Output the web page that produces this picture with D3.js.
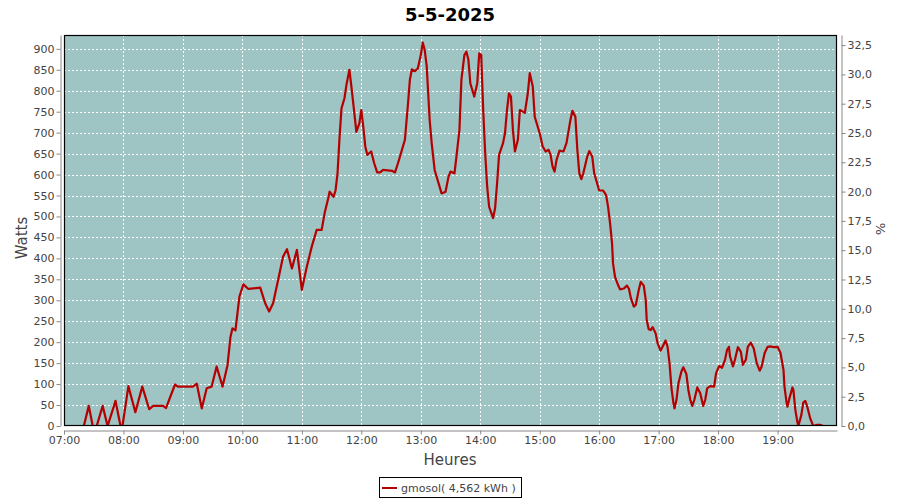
<!DOCTYPE html>
<html>
<head>
<meta charset="utf-8">
<script src="https://cdn.jsdelivr.net/npm/d3@7"></script>
<style>
  html, body { margin: 0; padding: 0; background: #ffffff; }
  svg { display: block; font-family: "DejaVu Sans", sans-serif; }
</style>
</head>
<body>
<svg id="chart" width="900" height="500"></svg>
<script>
const title = "5-5-2025";
const seriesName = "gmosol( 4,562 kWh )";
const hourTicks = ["07:00","08:00","09:00","10:00","11:00","12:00","13:00","14:00","15:00","16:00","17:00","18:00","19:00"];
const wattTicks = [0,50,100,150,200,250,300,350,400,450,500,550,600,650,700,750,800,850,900];
const pctTicks = [0,2.5,5,7.5,10,12.5,15,17.5,20,22.5,25,27.5,30,32.5];

const times = ["07:14","07:20","07:25","07:29","07:33","07:39","07:44","07:52","07:57","07:59",
"08:05","08:12","08:19","08:26","08:30","08:40","08:43","08:52","08:55","09:10",
"09:14","09:19","09:24","09:29","09:34","09:40","09:45","09:48","09:50","09:53",
"09:57","10:01","10:06","10:18","10:23","10:27","10:31","10:36","10:41","10:45",
"10:50","10:55","11:00","11:05","11:10","11:15","11:20","11:23","11:27","11:28",
"11:32","11:34","11:36","11:38","11:40","11:43","11:45","11:48","11:50","11:53",
"11:55","11:58","12:00","12:02","12:04","12:06","12:10","12:13","12:16","12:19",
"12:22","12:31","12:34","12:37","12:41","12:44","12:47","12:49","12:51","12:54",
"12:57","13:00","13:02","13:04","13:06","13:09","13:11","13:14","13:18","13:21",
"13:25","13:28","13:30","13:34","13:36","13:39","13:41","13:44","13:46","13:48",
"13:50","13:54","13:57","13:59","14:01","14:03","14:05","14:07","14:09","14:13",
"14:15","14:17","14:19","14:23","14:25","14:27","14:29","14:31","14:33","14:35",
"14:38","14:40","14:44","14:45","14:48","14:50","14:53","14:55","14:58","15:00",
"15:03","15:06","15:09","15:11","15:13","15:15","15:17","15:20","15:24","15:27",
"15:31","15:33","15:36","15:38","15:40","15:42","15:44","15:48","15:50","15:53",
"15:55","15:58","16:00","16:04","16:07","16:09","16:11","16:13","16:14","16:16",
"16:19","16:21","16:25","16:28","16:30","16:32","16:35","16:37","16:40","16:42",
"16:45","16:47","16:48","16:50","16:52","16:54","16:57","16:59","17:02","17:04",
"17:07","17:09","17:11","17:13","17:15","17:16","17:18","17:20","17:23","17:25",
"17:28","17:30","17:32","17:34","17:36","17:39","17:42","17:45","17:47","17:49",
"17:52","17:56","17:58","18:01","18:04","18:07","18:09","18:11","18:12","18:15",
"18:17","18:20","18:23","18:25","18:28","18:30","18:33","18:36","18:39","18:42",
"18:44","18:47","18:50","18:53","18:56","19:00","19:03","19:06","19:07","19:09",
"19:10","19:12","19:15","19:16","19:18","19:20","19:21","19:24","19:26","19:28",
"19:30","19:33","19:36","19:40","19:43","19:46"];

const watts = [0,0,48,0,0,48,0,60,0,0,
95,33,94,40,48,48,43,99,94,94,
101,42,90,94,142,94,145,213,233,228,
309,338,327,330,293,273,293,348,404,422,
376,420,325,380,428,468,468,508,547,559,
547,562,603,687,758,782,814,850,810,746,
702,722,754,714,667,647,655,627,605,605,
611,609,605,627,659,683,766,826,851,847,
853,885,915,897,858,730,675,611,579,555,
559,595,607,603,643,706,826,885,893,875,
818,786,818,889,885,754,651,571,523,496,
520,579,647,675,699,754,794,786,706,655,
683,754,749,747,794,842,810,738,714,699,
667,655,659,647,619,607,635,657,655,675,
730,752,738,659,603,589,603,643,656,643,
603,579,562,562,551,523,484,436,388,356,
337,326,328,335,328,305,285,289,325,344,
335,301,253,231,229,236,221,197,180,189,
204,189,150,90,54,42,62,102,130,140,
124,86,62,48,62,92,78,48,62,90,
95,94,126,143,139,158,181,189,167,142,
158,188,177,146,158,189,199,185,150,132,
142,174,189,190,188,189,174,134,94,58,
46,66,92,86,38,10,0,26,56,60,
46,18,0,3,3,0];

const parse = d3.timeParse("%H:%M");
const data = times.map((t, i) => ({ t: parse(t), w: watts[i] }));

const svg = d3.select("#chart");
const L = 64, R = 837, T = 35, B = 426;

const x = d3.scaleTime().domain([parse("07:00"), parse("20:00")]).range([L, R]);
const y = d3.scaleLinear().domain([0, 933]).range([B, T]);
const y2 = d3.scaleLinear().domain([0, 33.36]).range([B, T]);

// title
svg.append("text").attr("x", 450).attr("y", 21).attr("text-anchor", "middle")
  .attr("font-size", 18).attr("font-weight", "bold").attr("fill", "#000").text(title);

// plot background
svg.append("rect").attr("x", L).attr("y", T).attr("width", R - L).attr("height", B - T)
  .attr("fill", "#9ec4c3");

// grid
const grid = svg.append("g").attr("stroke", "#ffffff").attr("stroke-width", 1).attr("stroke-dasharray", "2,2");
wattTicks.filter(v => v > 0).forEach(v => {
  grid.append("line").attr("x1", L).attr("x2", R).attr("y1", Math.round(y(v)) + 0.5).attr("y2", Math.round(y(v)) + 0.5);
});
hourTicks.forEach(h => {
  const xx = Math.round(x(parse(h))) + 0.5;
  if (xx > L + 1) grid.append("line").attr("x1", xx).attr("x2", xx).attr("y1", T).attr("y2", B);
});

// line
svg.append("clipPath").attr("id", "clip").append("rect").attr("x", L).attr("y", T).attr("width", R - L).attr("height", B - T);
const line = d3.line().x(d => x(d.t)).y(d => y(d.w)).curve(d3.curveLinear);
svg.append("path").datum(data).attr("clip-path", "url(#clip)")
  .attr("d", line).attr("fill", "none").attr("stroke", "#b40000").attr("stroke-width", 2.2)
  .attr("stroke-linejoin", "round");

// plot border
svg.append("rect").attr("x", L + 0.5).attr("y", T + 0.5).attr("width", R - L - 1).attr("height", B - T - 1)
  .attr("fill", "none").attr("stroke", "#000").attr("stroke-width", 1.2);

// axes
const axisColor = "#888888", labelColor = "#444444";
function styleAxis(g) {
  g.select(".domain").attr("stroke", axisColor);
  g.selectAll(".tick line").attr("stroke", axisColor);
  g.selectAll(".tick text").attr("fill", labelColor).attr("font-size", 11).attr("font-family", "DejaVu Sans, sans-serif");
}

const leftAxis = d3.axisLeft(y).tickValues(wattTicks).tickSize(4).tickSizeOuter(0).tickPadding(2).tickFormat(d3.format("d"));
svg.append("g").attr("transform", "translate(60.5,0)").call(leftAxis).call(styleAxis);

const rightAxis = d3.axisRight(y2).tickValues(pctTicks).tickSize(4).tickSizeOuter(0).tickPadding(2)
  .tickFormat(d => d3.format(".1f")(d).replace(".", ","));
svg.append("g").attr("transform", "translate(841.5,0)").call(rightAxis).call(styleAxis);

const bottomAxis = d3.axisBottom(x).tickValues(hourTicks.map(parse)).tickSize(4).tickSizeOuter(0).tickPadding(2)
  .tickFormat(d3.timeFormat("%H:%M"));
svg.append("g").attr("transform", "translate(0,430.5)").call(bottomAxis).call(styleAxis);

// axis titles
svg.append("text").attr("transform", "translate(27,238) rotate(-90)").attr("text-anchor", "middle")
  .attr("font-size", 15).attr("fill", labelColor).text("Watts");
svg.append("text").attr("x", 450).attr("y", 465).attr("text-anchor", "middle")
  .attr("font-size", 15).attr("fill", labelColor).text("Heures");
svg.append("text").attr("transform", "translate(876,229) rotate(90)").attr("text-anchor", "middle")
  .attr("font-size", 13).attr("fill", labelColor).text("%");

// legend
const lg = svg.append("g");
lg.append("rect").attr("x", 379.5).attr("y", 477.5).attr("width", 142).attr("height", 20)
  .attr("fill", "#fff").attr("stroke", "#000").attr("stroke-width", 1);
lg.append("line").attr("x1", 382).attr("x2", 397).attr("y1", 488).attr("y2", 488)
  .attr("stroke", "#b40000").attr("stroke-width", 2);
lg.append("text").attr("x", 401).attr("y", 492).attr("font-size", 11).attr("fill", labelColor).text(seriesName);
</script>
</body>
</html>
